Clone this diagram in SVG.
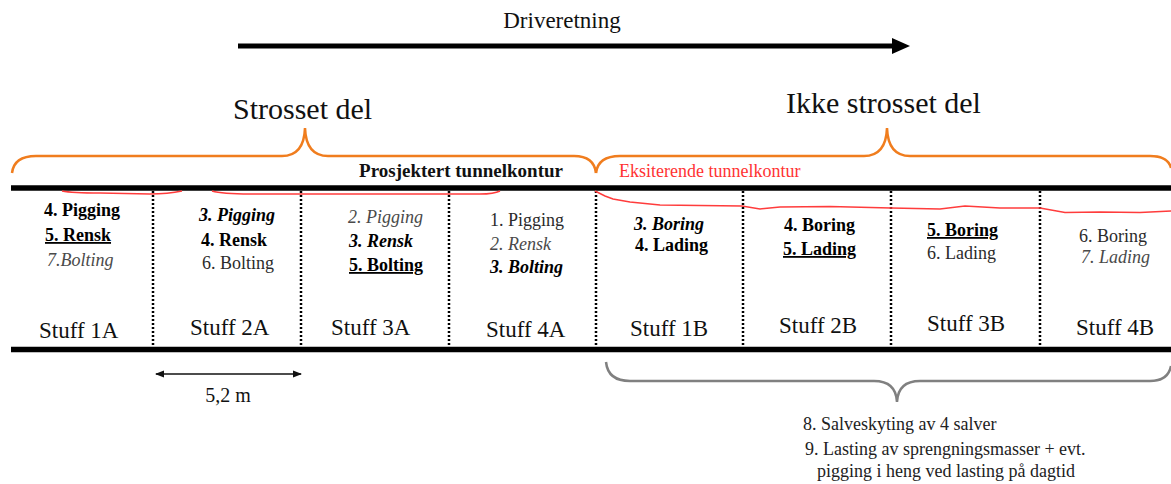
<svg xmlns="http://www.w3.org/2000/svg" width="1171" height="484" viewBox="0 0 1171 484" font-family="'Liberation Serif', 'Times New Roman', serif">
<style>
.c{font-size:18px}
.b{font-weight:bold;fill:#000}
.i{font-style:italic}
.u{text-decoration:underline}
.r{fill:#2b2b2b}
.g{fill:#4a4a4a}
.s{font-size:23px;fill:#111}
.dot{stroke:#000;stroke-width:2.5;stroke-dasharray:2 2}
.rail{stroke:#000;stroke-width:5.5}
.ob{fill:none;stroke:#f07d1e;stroke-width:2.5}
.gb{fill:none;stroke:#808080;stroke-width:2.5}
.red{fill:none;stroke:#ff3c3c;stroke-width:1.5}
</style>
<defs>
<marker id="bigHead" markerUnits="userSpaceOnUse" markerWidth="18" markerHeight="18" refX="0" refY="9" orient="auto"><path d="M0,1 L18,9 L0,17 z" fill="#000"/></marker>
<marker id="smallHead" markerUnits="userSpaceOnUse" markerWidth="9" markerHeight="8" refX="8" refY="4" orient="auto-start-reverse"><path d="M0,0.5 L9,4 L0,7.5 z" fill="#111"/></marker>
</defs>
<rect width="1171" height="484" fill="#fff"/>

<g id="titles">
<text x="562" y="28" font-size="23" text-anchor="middle" fill="#111">Driveretning</text>
<text x="233" y="119" font-size="30" fill="#111">Strosset del</text>
<text x="786" y="113" font-size="30" fill="#111">Ikke strosset del</text>
<text x="563" y="177" font-size="19" font-weight="bold" text-anchor="end" fill="#111">Prosjektert tunnelkontur</text>
<text x="619" y="177" font-size="18" fill="#ff3333">Eksiterende tunnelkontur</text>
</g>

<g id="tunnel">
<line class="rail" x1="11" y1="188" x2="1171" y2="188"/>
<line class="rail" x1="11" y1="349.5" x2="1171" y2="349.5"/>
<line class="dot" x1="153" y1="191" x2="153" y2="347"/>
<line class="dot" x1="301" y1="191" x2="301" y2="347"/>
<line class="dot" x1="449" y1="191" x2="449" y2="347"/>
<line class="dot" x1="596" y1="191" x2="596" y2="347"/>
<line class="dot" x1="743" y1="191" x2="743" y2="347"/>
<line class="dot" x1="891" y1="191" x2="891" y2="347"/>
<line class="dot" x1="1040" y1="191" x2="1040" y2="347"/>
<path class="red" d="M62,191 Q72,193 100,193 L150,194 Q168,194 182,191"/>
<path class="red" d="M212,191 Q222,194 250,194 L300,194 L400,194 L480,194 Q494,194 500,191"/>
<path class="red" d="M595,191 L605,196 L613,199 L630,202 L660,205 L700,205.5 L742,206 L760,209 L780,207 L830,206.5 L891,208 L940,209 L965,206 L1000,208 L1040,208 L1065,212.5 L1100,212 L1140,212.5 L1171,211"/>
</g>

<g id="stuff1A">
<text class="c b" x="44" y="216">4. Pigging</text>
<text class="c b u" x="45" y="241">5. Rensk</text>
<text class="c i g" x="47" y="266">7.Bolting</text>
<text class="s" x="39" y="338">Stuff 1A</text>
</g>
<g id="stuff2A">
<text class="c b i" x="199" y="221">3. Pigging</text>
<text class="c b" x="201" y="246">4. Rensk</text>
<text class="c r" x="202" y="269">6. Bolting</text>
<text class="s" x="190" y="335">Stuff 2A</text>
</g>
<g id="stuff3A">
<text class="c i g" x="348" y="223">2. Pigging</text>
<text class="c b i" x="349" y="247">3. Rensk</text>
<text class="c b u" x="349" y="271">5. Bolting</text>
<text class="s" x="331" y="335">Stuff 3A</text>
</g>
<g id="stuff4A">
<text class="c r" x="490" y="226">1. Pigging</text>
<text class="c i g" x="490" y="250">2. Rensk</text>
<text class="c b i" x="490" y="273">3. Bolting</text>
<text class="s" x="486" y="337">Stuff 4A</text>
</g>
<g id="stuff1B">
<text class="c b i" x="634" y="230">3. Boring</text>
<text class="c b" x="635" y="251">4. Lading</text>
<text class="s" x="630" y="336">Stuff 1B</text>
</g>
<g id="stuff2B">
<text class="c b" x="784" y="231">4. Boring</text>
<text class="c b u" x="783" y="255">5. Lading</text>
<text class="s" x="779" y="333">Stuff 2B</text>
</g>
<g id="stuff3B">
<text class="c b u" x="927" y="236">5. Boring</text>
<text class="c r" x="927" y="259">6. Lading</text>
<text class="s" x="927" y="331">Stuff 3B</text>
</g>
<g id="stuff4B">
<text class="c r" x="1079" y="242">6. Boring</text>
<text class="c i g" x="1081" y="263">7. Lading</text>
<text class="s" x="1076" y="335">Stuff 4B</text>
</g>

<g id="notes">
<text x="228" y="402" font-size="20" text-anchor="middle" fill="#111">5,2 m</text>
<text x="803" y="430" font-size="18" fill="#222">8. Salveskyting av 4 salver</text>
<text x="805" y="455" font-size="18" fill="#222">9. Lasting av sprengningsmasser + evt.</text>
<text x="817" y="477" font-size="18" fill="#222">pigging i heng ved lasting på dagtid</text>
</g>

<g id="connectors">
<line x1="238" y1="46" x2="892" y2="46" stroke="#000" stroke-width="5" marker-end="url(#bigHead)"/>
<line x1="156" y1="374" x2="301" y2="374" stroke="#111" stroke-width="1.5" marker-start="url(#smallHead)" marker-end="url(#smallHead)"/>
<path class="ob" d="M12,173 Q14,156 36,156 L282,156 Q304,156 305,128 Q306,156 328,156 L574,156 Q594,156 596,173"/>
<path class="ob" d="M596,173 Q598,156 620,156 L864,156 Q886,156 887,128 Q888,156 910,156 L1150,156 Q1168,156 1171,168"/>
<path class="gb" d="M606,362 Q608,381 630,381 L874,381 Q896,381 897,402 Q898,381 920,381 L1150,381 Q1168,381 1171,366"/>
</g>
</svg>
